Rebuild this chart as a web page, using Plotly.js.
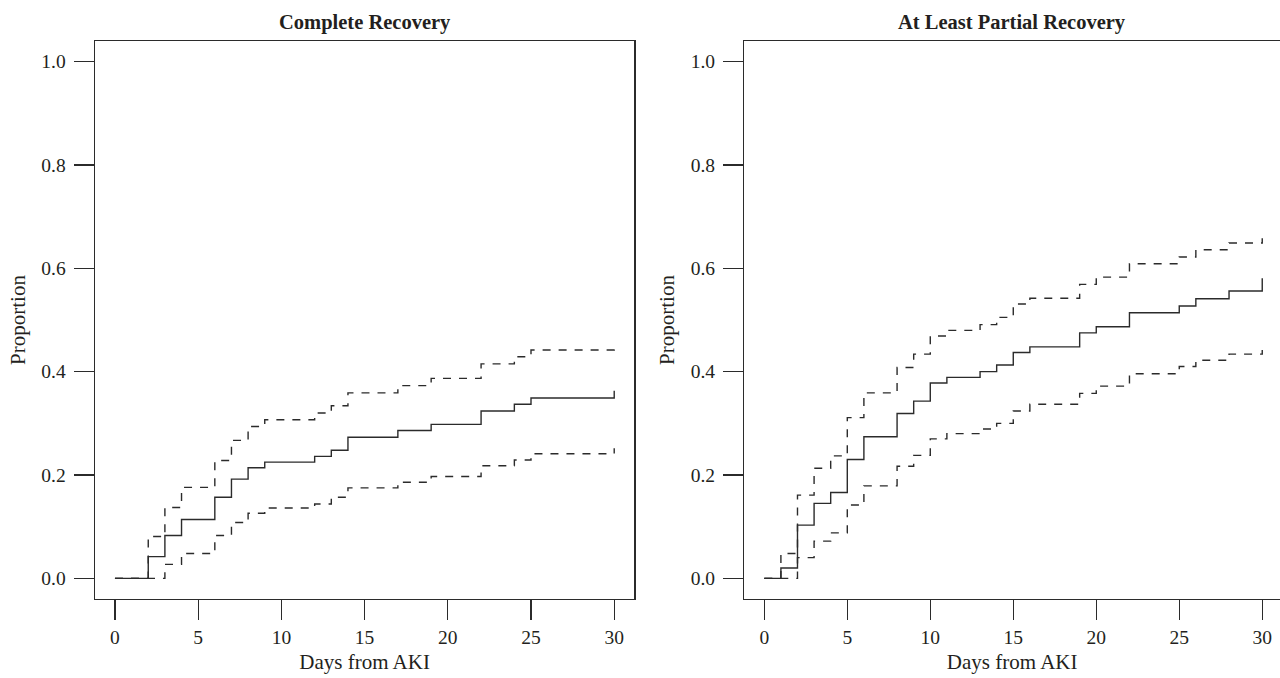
<!DOCTYPE html>
<html>
<head>
<meta charset="utf-8">
<script src="https://cdn.plot.ly/plotly-3.0.1.min.js"></script>
<style>
html,body{margin:0;padding:0;overflow:hidden;background:#fff;}
#chart{width:1280px;height:678px;}
</style>
</head>
<body>
<div id="chart"></div>
<script>
// Complete Recovery (left panel)
const daysComplete = [0,2,3,4,6,7,8,9,12,13,14,17,19,22,24,25,30];
const complete      = [0,0.042,0.083,0.114,0.157,0.192,0.214,0.225,0.236,0.248,0.273,0.286,0.298,0.324,0.337,0.349,0.363];
const completeUpper = [0,0.081,0.137,0.176,0.228,0.267,0.294,0.307,0.320,0.334,0.359,0.373,0.387,0.415,0.429,0.442,0.450];
const completeLower = [0,0,0.027,0.048,0.083,0.108,0.126,0.136,0.144,0.157,0.175,0.186,0.197,0.218,0.229,0.241,0.252];

// At Least Partial Recovery (right panel)
const daysPartial = [0,1,2,3,4,5,6,8,9,10,11,13,14,15,16,19,20,22,25,26,28,30];
const partial      = [0,0.020,0.103,0.145,0.166,0.230,0.274,0.319,0.343,0.378,0.389,0.400,0.413,0.437,0.448,0.475,0.487,0.514,0.527,0.541,0.556,0.581];
const partialUpper = [0,0.048,0.161,0.213,0.237,0.311,0.359,0.408,0.434,0.469,0.480,0.491,0.505,0.531,0.542,0.569,0.583,0.609,0.622,0.636,0.649,0.658];
const partialLower = [0,0,0.040,0.072,0.088,0.142,0.179,0.217,0.238,0.270,0.280,0.289,0.300,0.324,0.337,0.358,0.372,0.396,0.410,0.422,0.434,0.442];

const panelTitles = ['Complete Recovery', 'At Least Partial Recovery'];
const xTitle = 'Days from AKI';
const yTitle = 'Proportion';
const xTicks = [0,5,10,15,20,25,30];
const yTicks = [0,0.2,0.4,0.6,0.8,1.0];

const ink = '#231f20';
const lineCol = '#2b2b2b';
const serif = '"Liberation Serif", "DejaVu Serif", serif';

function step(x, y, xa, ya, dashed) {
  return {
    x: x, y: y, xaxis: xa, yaxis: ya, type: 'scatter', mode: 'lines',
    line: {shape: 'hv', color: lineCol, width: 1.4, dash: dashed ? '8px,8px' : 'solid'},
    hoverinfo: 'x+y', showlegend: false
  };
}

const data = [
  step(daysComplete, complete, 'x', 'y', false),
  step(daysComplete, completeUpper, 'x', 'y', true),
  step(daysComplete, completeLower, 'x', 'y', true),
  step(daysPartial, partial, 'x2', 'y2', false),
  step(daysPartial, partialUpper, 'x2', 'y2', true),
  step(daysPartial, partialLower, 'x2', 'y2', true)
];

function xax(domain, anchor, range) {
  return {
    domain: domain, anchor: anchor, range: range,
    tickmode: 'array', tickvals: xTicks, ticktext: xTicks.map(String),
    ticks: 'outside', ticklen: 20, tickwidth: 1.2, tickcolor: lineCol,
    ticklabelstandoff: 0,
    showline: true, mirror: true, linecolor: lineCol, linewidth: 1.4,
    showgrid: false, zeroline: false,
    tickfont: {family: serif, size: 19.5, color: ink},
    title: {text: xTitle, font: {family: serif, size: 21, color: ink}, standoff: 7}
  };
}
function yax(domain, anchor, mirror) {
  return {
    domain: domain, anchor: anchor, range: [-0.04, 1.04],
    tickmode: 'array', tickvals: yTicks, ticktext: yTicks.map(v => v.toFixed(1)),
    ticks: 'outside', ticklen: 20, tickwidth: 1.2, tickcolor: lineCol,
    ticklabelstandoff: 4,
    showline: true, mirror: mirror, linecolor: lineCol, linewidth: 1.4,
    showgrid: false, zeroline: false,
    tickfont: {family: serif, size: 19.5, color: ink},
    title: {text: yTitle, font: {family: serif, size: 21, color: ink}, standoff: 10}
  };
}

const layout = {
  width: 1280, height: 678,
  margin: {l: 95, r: 0, t: 41, b: 79},
  paper_bgcolor: '#fff', plot_bgcolor: '#fff',
  showlegend: false,
  xaxis: xax([0, 0.4550], 'y', [-1.2, 31.2]),
  yaxis: yax([0, 1], 'x', true),
  xaxis2: xax([0.5480, 1], 'y2', [-1.2, 31.07]),
  yaxis2: yax([0, 1], 'x2', false),
  annotations: [
    {text: '<b>' + panelTitles[0] + '</b>', xref: 'x domain', yref: 'y domain', x: 0.5, y: 1,
     yanchor: 'middle', yshift: 19, showarrow: false, font: {family: serif, size: 20.5, color: ink}},
    {text: '<b>' + panelTitles[1] + '</b>', xref: 'x2 domain', yref: 'y2 domain', x: 0.5, y: 1,
     yanchor: 'middle', yshift: 19, showarrow: false, font: {family: serif, size: 20.5, color: ink}}
  ]
};

Plotly.newPlot('chart', data, layout, {displayModeBar: false, staticPlot: true});
</script>
</body>
</html>
